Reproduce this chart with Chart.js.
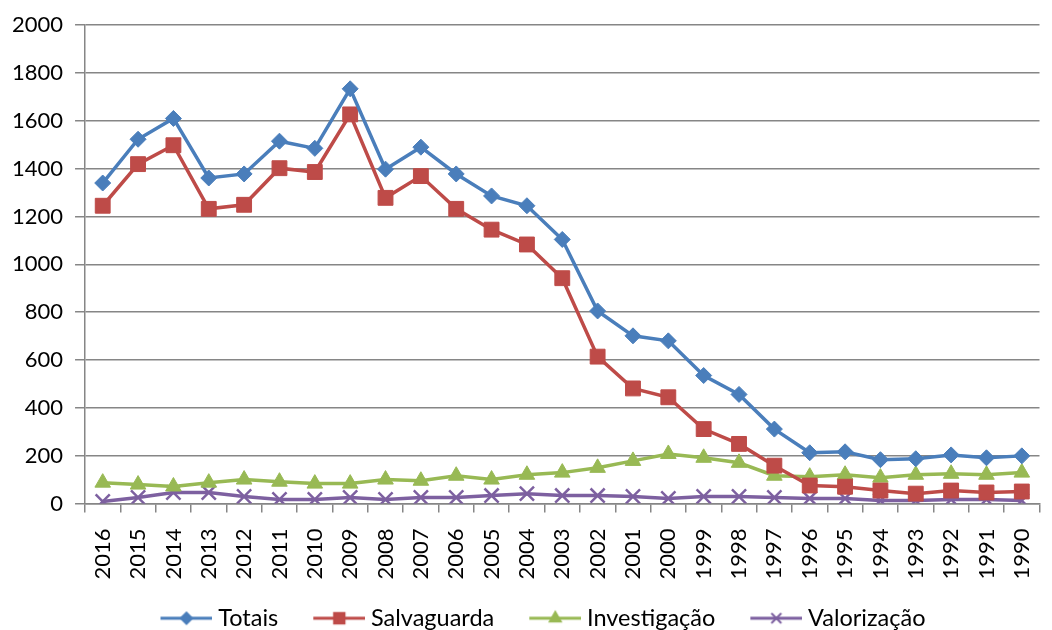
<!DOCTYPE html>
<html>
<head>
<meta charset="utf-8">
<script src="https://cdn.jsdelivr.net/npm/chart.js@4"></script>
<style>
  html, body { margin: 0; padding: 0; background: #fff; }
  #wrap { width: 1052px; height: 630px; }
</style>
</head>
<body>
<div id="wrap"><canvas id="grafico"></canvas></div>
<script>
// anos (eixo x)
const anos = ["2016","2015","2014","2013","2012","2011","2010","2009","2008","2007","2006","2005","2004","2003",
              "2002","2001","2000","1999","1998","1997","1996","1995","1994","1993","1992","1991","1990"];
const totais = [1340,1523,1610,1361,1378,1515,1485,1734,1398,1490,1378,1286,1245,1104,
                805,701,680,535,456,311,212,216,183,187,203,191,199];
const salvaguarda = [1245,1419,1498,1232,1249,1402,1386,1627,1278,1369,1232,1145,1083,942,
                     614,481,444,311,249,158,75,70,54,41,54,46,50];
const investigacao = [87,79,71,87,100,91,83,83,100,95,116,100,120,129,
                      149,178,207,191,170,116,112,120,108,120,124,120,129];
const valorizacao = [8,25,46,46,29,17,17,25,17,25,25,33,41,33,
                     33,29,21,29,29,25,21,21,12,12,17,17,12];
const yTicks = [0,200,400,600,800,1000,1200,1400,1600,1800,2000];

const fonte = "Lato, 'Open Sans', sans-serif";

// icone da legenda: espaco em branco a esquerda + linha com marcador
const ICONE_VAZIO = 41, ICONE_LARG = 52;
function iconeLegenda(cor, estilo, raio){
    let c = document.createElement("canvas");
    c.width = ICONE_VAZIO + ICONE_LARG; c.height = 22;
    let ctx = c.getContext("2d");
    ctx.strokeStyle = cor;
    ctx.fillStyle = cor;
    ctx.lineWidth = 3;
    ctx.beginPath(); ctx.moveTo(ICONE_VAZIO, 11); ctx.lineTo(ICONE_VAZIO + ICONE_LARG, 11); ctx.stroke();
    ctx.lineWidth = 2;
    Chart.helpers.drawPoint(ctx, {pointStyle: estilo, rotation: 0, radius: raio, borderWidth: 2},
        ICONE_VAZIO + ICONE_LARG / 2, 11);
    return c;
}

function serie(nome, dados, cor, estilo, raio){
    return {
        label: nome,
        data: dados,
        borderColor: cor,
        backgroundColor: cor,
        pointStyle: estilo,
        pointRadius: raio,
        pointHoverRadius: raio,
        pointBorderWidth: estilo === "crossRot" ? 2.5 : 1,
        borderWidth: 3.5,
        tension: 0
    };
}

window.onload = function(){
    let ctx = document.getElementById("grafico").getContext("2d");
    const cores = ["#4A7EBB", "#BE4B48", "#98B954", "#7D60A0"];
    const estilos = ["rectRot", "rect", "triangle", "crossRot"];
    const raios = [8, 10.5, 9, 10];
    let grafico = new Chart(ctx, {
        type: "line",
        data: {
            labels: anos,
            datasets: [
                serie("Totais", totais, cores[0], estilos[0], raios[0]),
                serie("Salvaguarda", salvaguarda, cores[1], estilos[1], raios[1]),
                serie("Investigação", investigacao, cores[2], estilos[2], raios[2]),
                serie("Valorização", valorizacao, cores[3], estilos[3], raios[3])
            ]
        },
        options: {
            responsive: true,
            maintainAspectRatio: false,
            animation: false,
            layout: { padding: { top: -5, right: 1, left: 0, bottom: -10 } },
            plugins: {
                tooltip: { enabled: false },
                legend: {
                    position: "bottom",
                    labels: {
                        color: "#000",
                        font: { family: fonte, size: 23.5 },
                        usePointStyle: true,
                        pointStyleWidth: ICONE_VAZIO + ICONE_LARG - 12,
                        padding: 0,
                        generateLabels: function(chart){
                            return chart.data.datasets.map(function(ds, i){
                                return {
                                    text: ds.label,
                                    pointStyle: iconeLegenda(cores[i], estilos[i], raios[i] * 0.7),
                                    fillStyle: cores[i],
                                    strokeStyle: cores[i],
                                    lineWidth: 0,
                                    datasetIndex: i
                                };
                            });
                        }
                    }
                }
            },
            scales: {
                x: {
                    offset: true,
                    afterFit: function(scale){
                        scale.height += 11;
                        scale.paddingRight = 0;
                    },
                    grid: {
                        offset: true,
                        drawOnChartArea: false,
                        drawTicks: true,
                        tickLength: 9,
                        color: "#868686",
                        lineWidth: 1.5
                    },
                    border: { color: "#868686", width: 1.5 },
                    ticks: {
                        color: "#000",
                        font: { family: fonte, size: 22 },
                        minRotation: 90,
                        maxRotation: 90,
                        autoSkip: false,
                        padding: 16
                    }
                },
                y: {
                    min: 0,
                    max: 2000,
                    afterBuildTicks: function(axis){
                        axis.ticks = yTicks.map(function(v){ return { value: v }; });
                    },
                    grid: {
                        color: "#868686",
                        lineWidth: 1.5,
                        tickLength: 10
                    },
                    border: { color: "#868686", width: 1.5 },
                    ticks: {
                        color: "#000",
                        font: { family: fonte, size: 22 },
                        padding: 12,
                        callback: function(v){ return String(v); }
                    }
                }
            }
        }
    });
};
</script>
</body>
</html>
